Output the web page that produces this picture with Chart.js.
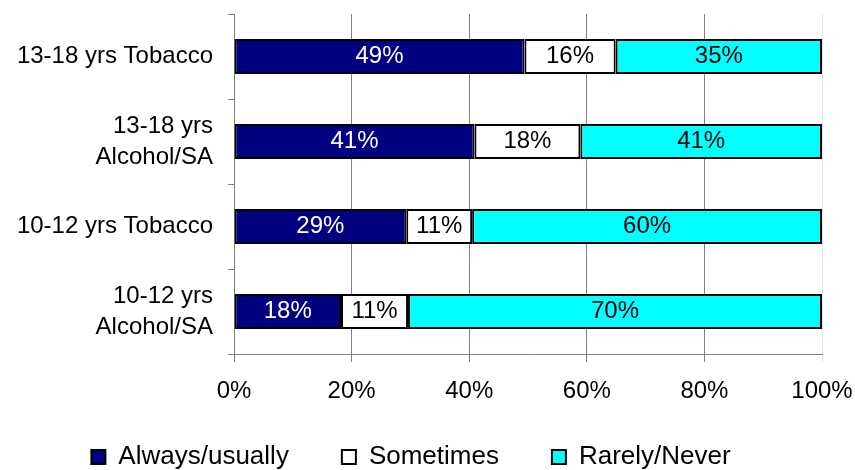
<!DOCTYPE html>
<html>
<head>
<meta charset="utf-8">
<script src="https://cdn.jsdelivr.net/npm/chart.js@4"></script>
<style>
  html, body { margin: 0; padding: 0; background: #fff; }
  #wrap { width: 855px; height: 470px; }
</style>
</head>
<body>
<div id="wrap"><canvas id="chart" width="855" height="470"></canvas></div>
<script>
// categories, top to bottom
const categories = [
    '13-18 yrs Tobacco',
    ['13-18 yrs', 'Alcohol/SA'],
    '10-12 yrs Tobacco',
    ['10-12 yrs', 'Alcohol/SA']
];

// shares in percent
const alwaysUsually = [49.4, 40.9, 29.3, 18.2];
const sometimes = [15.5, 18.0, 11.2, 11.4];
const rarelyNever = [35.1, 41.1, 59.5, 70.4];

const xTicks = [0, 20, 40, 60, 80, 100];

const FONT = "'Liberation Sans', Arial, sans-serif";

// draws the rounded percentage in the middle of each bar segment
const barLabels = {
    id: 'barLabels',
    afterDatasetsDraw(chart) {
        const ctx = chart.ctx;
        ctx.save();
        ctx.font = '24px ' + FONT;
        ctx.textAlign = 'center';
        ctx.textBaseline = 'middle';
        chart.data.datasets.forEach((ds, i) => {
            const meta = chart.getDatasetMeta(i);
            meta.data.forEach((bar, j) => {
                const mid = bar.getCenterPoint();
                ctx.fillStyle = i === 0 ? '#ffffff' : '#000000';
                ctx.fillText(Math.round(ds.data[j]) + '%', mid.x, mid.y);
            });
        });
        ctx.restore();
    }
};

// the wide legend padding eats the room of the x tick labels:
// give the x axis its full box back and drop the legend row a bit
const layoutFix = {
    id: 'layoutFix',
    afterLayout(chart) {
        const lg = chart.legend;
        lg.top += 10;
        lg.bottom += 10;
        const x = chart.scales.x;
        x.bottom = x.top + 76;
        x.height = 76;
    }
};

const ctx = document.getElementById('chart').getContext('2d');
new Chart(ctx, {
    type: 'bar',
    data: {
        labels: categories,
        datasets: [
            {
                label: 'Always/usually',
                data: alwaysUsually,
                backgroundColor: '#000080',
                borderColor: '#000000',
                borderWidth: 2,
                borderSkipped: false
            },
            {
                label: 'Sometimes',
                data: sometimes,
                backgroundColor: '#ffffff',
                borderColor: '#000000',
                borderWidth: 2,
                borderSkipped: false
            },
            {
                label: 'Rarely/Never',
                data: rarelyNever,
                backgroundColor: '#00ffff',
                borderColor: '#000000',
                borderWidth: 2,
                borderSkipped: false
            }
        ]
    },
    options: {
        indexAxis: 'y',
        responsive: false,
        animation: false,
        layout: { padding: { top: 14, right: 33, left: 0, bottom: 0 } },
        datasets: {
            bar: { categoryPercentage: 1.0, barPercentage: 0.41 }
        },
        plugins: {
            legend: {
                position: 'bottom',
                labels: {
                    color: '#000',
                    font: { family: FONT, size: 26 },
                    boxWidth: 14,
                    boxHeight: 14,
                    padding: 53
                }
            },
            tooltip: { enabled: false }
        },
        scales: {
            x: {
                stacked: true,
                min: 0,
                max: 100,
                afterBuildTicks: scale => { scale.ticks = xTicks.map(v => ({ value: v })); },
                afterFit: scale => {
                    scale.height = 27;
                    scale.paddingLeft = 0;
                    scale.paddingRight = 0;
                },
                ticks: {
                    color: '#000',
                    font: { family: FONT, size: 24 },
                    padding: 15,
                    callback: v => v + '%'
                },
                grid: {
                    color: c => (c.tick && c.tick.value === 100) ? '#e6e6e6' : '#808080',
                    tickLength: 8,
                    lineWidth: 1
                },
                border: { color: '#808080', width: 1 }
            },
            y: {
                stacked: true,
                afterFit: scale => {
                    scale.width = 234;
                    scale.paddingTop = 0;
                    scale.paddingBottom = 0;
                },
                ticks: {
                    color: '#000',
                    font: { family: FONT, size: 24, lineHeight: 1.3 },
                    padding: 15
                },
                grid: {
                    offset: true,
                    drawOnChartArea: false,
                    tickLength: 6,
                    color: '#808080'
                },
                border: { color: '#808080', width: 1 }
            }
        }
    },
    plugins: [barLabels, layoutFix]
});
</script>
</body>
</html>
